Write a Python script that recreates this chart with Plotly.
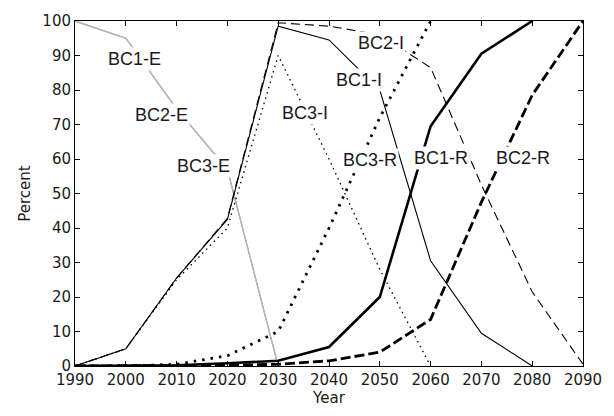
import plotly.graph_objects as go

# Decade steps of the projection
years = list(range(1990, 2091, 10))

# Existing stock share, identical for the three cases (1990-2030)
existing = [100, 95, 74.5, 57, 0]

# Case BC1
bc1_i = [0, 5, 25.5, 42.5, 98.5, 94.5, 80, 30.5, 9.5, 0]
bc1_r = [0, 0, 0.2, 0.8, 1.5, 5.5, 20, 69.5, 90.5, 100]
# Case BC2
bc2_i = [0, 5, 25.5, 42.8, 99.5, 98.5, 96, 86.5, 52.5, 21.5, 0.5]
bc2_r = [0, 0, 0, 0.2, 0.5, 1.5, 4, 13.5, 47.5, 78.5, 100]
# Case BC3
bc3_i = [0, 5, 25, 40, 90, 60, 28, 0]
bc3_r = [0, 0, 0.5, 3, 10, 40, 72, 100]

x_ticks = list(range(1990, 2091, 10))
y_ticks = list(range(0, 101, 10))

series = [
    # name, values, colour, width, dash
    ("BC1-E", existing, "#b4b4b4", 1.2, "solid"),
    ("BC2-E", existing, "#b4b4b4", 1.2, "solid"),
    ("BC3-E", existing, "#b4b4b4", 1.2, "solid"),
    ("BC1-I", bc1_i, "black", 1.1, "solid"),
    ("BC2-I", bc2_i, "black", 1.1, "9px,5px"),
    ("BC3-I", bc3_i, "black", 1.3, "1.5px,4px"),
    ("BC1-R", bc1_r, "black", 2.6, "solid"),
    ("BC2-R", bc2_r, "black", 2.8, "10px,4px"),
    ("BC3-R", bc3_r, "black", 2.8, "2.5px,6px"),
]

fig = go.Figure()
for name, vals, color, width, dash in series:
    fig.add_trace(go.Scatter(
        x=years[:len(vals)], y=vals, mode="lines", name=name,
        line=dict(color=color, width=width, dash=dash),
        showlegend=False, hoverinfo="skip",
    ))

# In-line series labels, with a white box that breaks the line beneath
labels = [
    ("BC1-E", 2001.7, 89.1),
    ("BC2-E", 2007.1, 72.8),
    ("BC3-E", 2015.3, 58.1),
    ("BC3-I", 2035.3, 73.4),
    ("BC1-I", 2045.9, 83.0),
    ("BC2-I", 2050.2, 93.7),
    ("BC3-R", 2048.1, 59.8),
    ("BC1-R", 2062.0, 60.3),
    ("BC2-R", 2078.2, 60.3),
]
for text, lx, ly in labels:
    fig.add_annotation(
        x=lx, y=ly, text=text, showarrow=False,
        font=dict(family="Liberation Sans, Arial, sans-serif", size=18, color="#1a1a1a"),
        bgcolor="white", borderpad=1,
    )

axis_common = dict(
    showline=True, linecolor="black", linewidth=1, mirror="ticks",
    ticks="inside", ticklen=5, tickcolor="black", tickwidth=1,
    showgrid=False, zeroline=False,
    tickfont=dict(family="DejaVu Sans, sans-serif", size=15, color="#1a1a1a"),
    title_font=dict(family="DejaVu Sans, sans-serif", size=15, color="#1a1a1a"),
)

fig.update_xaxes(
    range=[1990, 2090], tickmode="array", tickvals=x_ticks,
    ticktext=[str(t) for t in x_ticks], title_text="Year", title_standoff=4,
    **axis_common,
)
fig.update_yaxes(
    range=[0, 100], tickmode="array", tickvals=y_ticks,
    ticktext=[str(t) for t in y_ticks], title_text="Percent", title_standoff=8,
    **axis_common,
)

fig.update_layout(
    width=614, height=416,
    margin=dict(l=75, r=22, t=19, b=47),
    paper_bgcolor="white", plot_bgcolor="white",
)

fig.write_html("out.html")
